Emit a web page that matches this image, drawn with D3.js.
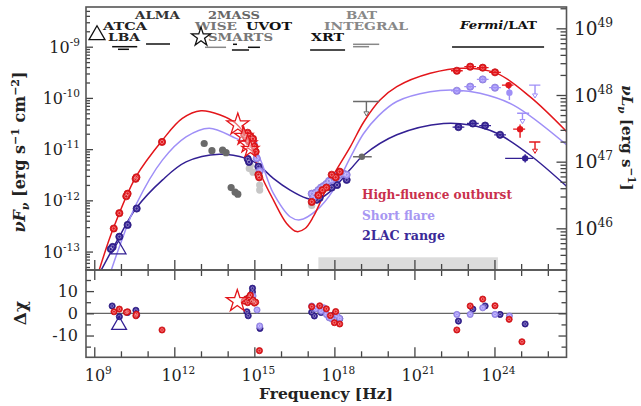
<!DOCTYPE html>
<meta charset="utf-8">
<script src="https://d3js.org/d3.v7.min.js"></script>
<style>
  body { margin: 0; background: #fff; }
  text { font-family: "DejaVu Serif", serif; }
</style>
<div id="my_dataviz"></div>
<script>

// ---- data, all as log10 values ----
// model curves [log nu, log nuFnu]
var hfCurve  = [[9.15,-13.42],[9.69,-12.58],[10.56,-11.54],[11.56,-10.82],[12.3,-10.4],[13.0,-10.25],[13.7,-10.33],[14.31,-10.5],[14.8,-10.85],[15.22,-11.47],[15.71,-11.99],[16.21,-12.45],[16.59,-12.61],[16.9,-12.55],[17.21,-12.32],[17.84,-11.62],[18.6,-10.95],[19.1,-10.47],[19.71,-10.04],[20.34,-9.78],[21.59,-9.52],[22.84,-9.42],[24.09,-9.52],[25.34,-9.98],[26.71,-10.66]];
var sfCurve  = [[9.6,-13.42],[9.94,-12.91],[10.56,-12.09],[11.56,-11.21],[12.44,-10.76],[13.31,-10.59],[14.31,-10.79],[14.96,-10.95],[15.71,-11.86],[16.34,-12.32],[16.71,-12.38],[17.34,-12.19],[17.96,-11.8],[18.59,-11.17],[19.09,-10.7],[19.65,-10.35],[20.34,-10.07],[21.59,-9.88],[22.59,-9.85],[23.46,-9.91],[24.71,-10.14],[26.71,-10.92]];
var lacCurve = [[9.2,-13.42],[9.94,-12.71],[10.56,-12.16],[11.56,-11.6],[12.44,-11.25],[13.69,-11.1],[14.69,-11.18],[15.09,-11.28],[15.71,-11.57],[16.34,-11.8],[16.96,-11.96],[17.34,-11.99],[17.84,-11.83],[18.59,-11.4],[19.09,-11.12],[20.34,-10.72],[22.09,-10.5],[23.09,-10.53],[24.09,-10.69],[25.34,-11.12],[26.71,-11.73]];

// measured SED points [log nu, log nuFnu]
var hfPts  = [[9.73,-12.55],[9.94,-12.25],[10.2,-11.92],[10.25,-11.87],[10.55,-11.58],[10.58,-11.55],[11.54,-10.86],
              [14.62,-10.72],[14.7,-10.78],[14.75,-10.68],[14.8,-10.85],[14.85,-10.75],[14.9,-10.9],[14.95,-10.8],[15.0,-10.95],[15.05,-11.05],[15.15,-11.5],[15.18,-11.55],
              [17.15,-12.03],[17.4,-11.9],[17.55,-11.8],[17.7,-11.75],[17.9,-11.5],[18.05,-11.55],[18.2,-11.44],
              [22.59,-9.47],[23.09,-9.39],[23.56,-9.41],[24.02,-9.50]];
var sfPts  = [[14.97,-10.89],[15.09,-11.18],[15.2,-11.43],
              [17.15,-11.87],[17.2,-11.95],[17.3,-11.85],[17.4,-11.8],[17.5,-11.75],[17.6,-11.72],[17.7,-11.68],[17.8,-11.62],[17.9,-11.6],[18.0,-11.55],[18.1,-11.52],[18.2,-11.5],[18.35,-11.48],[18.46,-11.5],
              [22.59,-9.86],[23.09,-9.78],[23.56,-9.64],[24.02,-9.8]];
var lacPts = [[9.62,-12.95],[9.69,-12.91],[9.94,-12.71],[10.25,-12.48],[10.59,-12.16],
              [14.75,-11.19],[14.8,-11.25],[15.15,-11.34],
              [17.34,-11.99],[17.45,-11.95],[17.9,-11.75],[18.1,-11.7],[18.46,-11.6],
              [22.65,-10.57],[23.19,-10.5],[23.65,-10.54],[24.21,-10.72]];
var darkGrayPts  = [[13.12,-10.89],[13.41,-11.03],[13.81,-11.02],[13.94,-11.07],[14.13,-11.75],[14.28,-11.84],[14.38,-11.88]];
var lightGrayPts = [[14.81,-11.38],[14.85,-11.32],[14.95,-11.45],[15.2,-11.55],[15.2,-11.7],[15.2,-11.8],[17.15,-12.1]];
var hfStars = [[14.38,-10.52,1],[14.6,-10.75,0.7],[14.75,-10.9,0.7],[14.85,-11.0,0.6]];
var lacTriangle = [9.91,-12.96];

// points with error bars: [log nu, log F, nu lo, nu hi, F lo, F hi, upper limit?]
var hfErr  = [[24.53,-9.75,24.28,24.71,-9.82,-9.69,0],[24.96,-10.61,24.7,25.15,-10.78,-10.52,0],[25.52,-10.86,25.3,25.72,-11.08,-10.86,1]];
var sfErr  = [[24.56,-9.9,24.56,24.56,-10.04,-9.8,0],[25.05,-10.3,24.85,25.3,-10.5,-10.3,1],[25.52,-9.75,25.3,25.72,-10.0,-9.75,1]];
var lacErr = [[25.15,-11.18,24.4,25.45,-11.26,-11.1,0]];
var grayErr = [[19.03,-11.15,18.7,19.4,-11.2,-11.1,0],[19.2,-10.07,18.7,19.68,-10.35,-10.07,1]];

// residuals [log nu, delta chi]
var hfRes  = [[9.74,0.7],[9.94,1.9],[10.2,0.45],[10.25,0.7],[10.56,-1.1],[10.58,-0.4],[11.54,-7.5],
              [14.62,5.5],[14.7,6.5],[14.75,4.8],[14.8,7.2],[14.85,8.2],[14.9,5.5],[14.95,6],[15.0,4.6],[15.05,5.0],[15.19,-16.8],
              [17.15,3.0],[17.45,3.4],[17.7,2.0],[17.85,-1],[18.0,-4.2],[18.2,-4.8],[18.05,0.8],
              [22.59,-7.5],[23.09,3.3],[23.56,6.4],[24.02,3.4],[24.55,-2.7],[25.03,-12.8]];
var sfRes  = [[14.95,7.8],[15.1,1.5],[15.2,-5.7],
              [17.15,3.3],[17.3,2.0],[17.5,1.0],[17.6,2.5],[17.7,-0.5],[17.8,-2.0],[17.9,-2.5],[18.1,-1.0],[18.2,-2.3],
              [22.59,-0.5],[23.09,-0.5],[23.56,2.5],[24.02,-0.5],[24.56,-1.2]];
var lacRes = [[9.67,3.3],[9.94,-1.5],[10.25,0.4],[10.56,1.35],[10.59,-0.8],
              [14.72,0.7],[14.77,-1.1],[14.93,11.3],[14.93,9.6],[15.21,-6.8],
              [17.15,0.5],[17.25,-1.2],[17.5,0.4],[18.0,-0.5],[18.2,-2.5],
              [22.65,-3.5],[23.19,1.9],[23.65,3.3],[24.21,-0.5],[25.15,-4.8]];
var hfStarRes = [14.36,5.5];
var lacTriRes = [9.93,-5.3];

// instrument coverage [log nu lo, log nu hi], and the shaded band
var instBlack = [[9.67,10.61],[9.89,10.3],[10.94,11.84],[14.16,14.8],[14.2,14.35],[14.76,15.21],[17.09,18.4],[22.41,25.86]];
var instBlackY = [46.7,49.3,44,50,44.3,47.3,50,47];
var instGray = [[13.15,13.94],[18.7,19.68],[18.7,19.3]];
var instGrayY = [47.3,44.3,46.7];
var band = [17.4, 24.13];

// instrument names: text, left x, baseline y, colour, width
var instNames = [["ALMA",135,18.5,"#333",45],["ATCA",103,29.5,"#222",44],["LBA",108,40.5,"#222",32],
                 ["2MASS",208,18.5,"#666",52],["WISE",195,29.5,"#777",42],["UVOT",246,29.5,"#111",46],["SMARTS",208,40.5,"#777",65],
                 ["BAT",346,18.5,"#888",31],["INTEGRAL",324,29.5,"#888",84],["XRT",311,40.5,"#111",33]];

var legendNames = ["High-fluence outburst", "Short flare", "2LAC range"];
var legendColors = ["#c9304c", "#a797f2", "#3b2a98"];
var legendWidths = [150, 73, 83];

// ---- layout ----
var L = 86, R = 566.5, T = 7, M = 270, B = 357.3;
var red = "#e3161b", lilac = "#9f8ff7", indigo = "#332093";
function P(e) { return Math.pow(10, e); }

var svg = d3.select("#my_dataviz").append("svg").attr("width", 641).attr("height", 406);

var x  = d3.scaleLog().domain([P(8.69), P(26.7)]).range([L, R]);
var y  = d3.scaleLog().domain([P(-13.36), P(-8.225)]).range([M, T]);
var yL = d3.scaleLog().domain([P(45.375), P(49.32)]).range([M, T]);
var yD = d3.scaleLinear().domain([-19.8, 19.5]).range([B, M]);

var gTop = svg.append("g");
svg.append("clipPath").attr("id", "c1").append("rect")
  .attr("x", L).attr("y", T).attr("width", R - L).attr("height", M - T);
var plot = gTop.append("g").attr("clip-path", "url(#c1)");

// shaded band
plot.append("rect")
  .attr("x", x(P(band[0]))).attr("width", x(P(band[1])) - x(P(band[0])))
  .attr("y", 257.3).attr("height", 12)
  .attr("fill", "#dcdcdc");

// model curves
var line = d3.line()
  .x(function(d) { return x(P(d[0])); })
  .y(function(d) { return y(P(d[1])); })
  .curve(d3.curveCatmullRom.alpha(0.5));
[[lacCurve, indigo], [sfCurve, lilac], [hfCurve, red]].forEach(function(c) {
  plot.append("path").attr("d", line(c[0])).attr("fill", "none")
    .attr("stroke", c[1]).attr("stroke-width", 1.5);
});

// gray archival points
plot.selectAll(".lg").data(lightGrayPts).enter().append("circle")
  .attr("cx", function(d) { return x(P(d[0])); }).attr("cy", function(d) { return y(P(d[1])); })
  .attr("r", 3.6).attr("fill", "#c6c6c6");
plot.selectAll(".dg").data(darkGrayPts).enter().append("circle")
  .attr("cx", function(d) { return x(P(d[0])); }).attr("cy", function(d) { return y(P(d[1])); })
  .attr("r", 3.6).attr("fill", "#6a6a6a");

// error bars and upper limits
function errBars(g, data, col, sc) {
  data.forEach(function(d) {
    var cx = x(P(d[0])), cy = sc(P(d[1]));
    g.append("line").attr("x1", x(P(d[2]))).attr("x2", x(P(d[3]))).attr("y1", cy).attr("y2", cy)
      .attr("stroke", col).attr("stroke-width", 1.4);
    g.append("line").attr("x1", cx).attr("x2", cx).attr("y1", sc(P(d[4]))).attr("y2", sc(P(d[5])))
      .attr("stroke", col).attr("stroke-width", 1.4);
    if (d[6]) {
      var ya = sc(P(d[4]));
      g.append("path").attr("d", "M" + (cx - 2.5) + "," + (ya - 4) + "L" + (cx + 2.5) + "," + (ya - 4) + "L" + cx + "," + ya + "Z")
        .attr("fill", "#fff").attr("stroke", col).attr("stroke-width", 1);
    } else {
      g.append("circle").attr("cx", cx).attr("cy", cy).attr("r", 3.2).attr("fill", col);
    }
  });
}
errBars(plot, grayErr, "#6a6a6a", y);

// data markers: filled circle with a light ring inside
function dots(g, data, col, sc, r) {
  var s = g.append("g");
  s.selectAll("circle.o").data(data).enter().append("circle")
    .attr("cx", function(d) { return x(P(d[0])); }).attr("cy", function(d) { return sc(d[1]); })
    .attr("r", r).attr("fill", col).attr("stroke", d3.color(col).darker(0.4)).attr("stroke-width", 0.8);
  s.selectAll("circle.i").data(data).enter().append("circle")
    .attr("cx", function(d) { return x(P(d[0])); }).attr("cy", function(d) { return sc(d[1]); })
    .attr("r", r * 0.45).attr("fill", "none").attr("stroke", "#fff").attr("stroke-opacity", 0.55).attr("stroke-width", 0.7);
}
var yv = function(v) { return y(P(v)); };
dots(plot, lacPts, indigo, yv, 3.6);
dots(plot, sfPts, lilac, yv, 3.6);
dots(plot, hfPts, red, yv, 3.6);
errBars(plot, lacErr, indigo, y);
errBars(plot, sfErr, lilac, y);
errBars(plot, hfErr, red, y);
// small bars on gamma points
[[hfPts.slice(-4), red], [sfPts.slice(-4), lilac], [lacPts.slice(-4), indigo]].forEach(function(c) {
  c[0].forEach(function(d) {
    plot.append("line").attr("x1", x(P(d[0] - 0.22))).attr("x2", x(P(d[0] + 0.22)))
      .attr("y1", y(P(d[1]))).attr("y2", y(P(d[1]))).attr("stroke", c[1]).attr("stroke-width", 1.3);
  });
});

// stars and triangle
var star = d3.symbol().type(d3.symbolStar);
hfStars.forEach(function(d) {
  plot.append("path").attr("d", star.size(150 * d[2])())
    .attr("transform", "translate(" + x(P(d[0])) + "," + y(P(d[1])) + ")")
    .attr("fill", "#fff").attr("fill-opacity", 0.4).attr("stroke", red).attr("stroke-width", 1.3);
});
var tri = d3.symbol().type(d3.symbolTriangle).size(95);
plot.append("path").attr("d", tri())
  .attr("transform", "translate(" + x(P(lacTriangle[0])) + "," + y(P(lacTriangle[1])) + ")")
  .attr("fill", "none").attr("stroke", indigo).attr("stroke-width", 1.3);

// instrument bars at the top
instBlack.forEach(function(d, i) {
  gTop.append("line").attr("x1", x(P(d[0]))).attr("x2", x(P(d[1])))
    .attr("y1", instBlackY[i]).attr("y2", instBlackY[i]).attr("stroke", "#111").attr("stroke-width", 1.5);
});
instGray.forEach(function(d, i) {
  gTop.append("line").attr("x1", x(P(d[0]))).attr("x2", x(P(d[1])))
    .attr("y1", instGrayY[i]).attr("y2", instGrayY[i]).attr("stroke", "#888").attr("stroke-width", 1.5);
});
instNames.forEach(function(d) {
  gTop.append("text").attr("x", d[1]).attr("y", d[2]).attr("fill", d[3])
    .attr("textLength", d[4]).attr("lengthAdjust", "spacingAndGlyphs")
    .style("font-size", "10.5px").style("font-weight", "bold").text(d[0]);
});
var fl = gTop.append("text").attr("x", 460).attr("y", 28.5).attr("fill", "#111")
  .attr("textLength", 77).attr("lengthAdjust", "spacingAndGlyphs")
  .style("font-size", "10.5px").style("font-weight", "bold");
fl.append("tspan").style("font-style", "italic").text("Fermi");
fl.append("tspan").text("/LAT");
gTop.append("path").attr("d", d3.symbol().type(d3.symbolTriangle).size(110)())
  .attr("transform", "translate(97,35)").attr("fill", "none").attr("stroke", "#111").attr("stroke-width", 1.3);
gTop.append("path").attr("d", star.size(110)())
  .attr("transform", "translate(201,37)").attr("fill", "none").attr("stroke", "#111").attr("stroke-width", 1.3);

// legend
legendNames.forEach(function(n, i) {
  gTop.append("text").attr("x", 362).attr("y", 199 + i * 20.5).attr("fill", legendColors[i])
    .attr("textLength", legendWidths[i]).attr("lengthAdjust", "spacingAndGlyphs")
    .style("font-size", "12px").style("font-weight", "bold").text(n);
});

// ---- residual panel ----
var bot = svg.append("g");
bot.append("line").attr("x1", L).attr("x2", R).attr("y1", yD(0)).attr("y2", yD(0))
  .attr("stroke", "#666").attr("stroke-width", 1.3);
var yr = function(v) { return yD(v); };
dots(bot, lacRes, indigo, yr, 3.1);
dots(bot, sfRes, lilac, yr, 3.1);
dots(bot, hfRes, red, yr, 3.1);
bot.append("path").attr("d", star.size(150)())
  .attr("transform", "translate(" + x(P(hfStarRes[0])) + "," + yD(hfStarRes[1]) + ")")
  .attr("fill", "#fff").attr("fill-opacity", 0.4).attr("stroke", red).attr("stroke-width", 1.3);
bot.append("path").attr("d", tri())
  .attr("transform", "translate(" + x(P(lacTriRes[0])) + "," + yD(lacTriRes[1]) + ")")
  .attr("fill", "none").attr("stroke", indigo).attr("stroke-width", 1.3);

// ---- axes ----
function clean(g) { g.select(".domain").remove(); g.selectAll("line").attr("stroke", "#444").attr("stroke-width", 1.3); }
var xMaj = [9, 12, 15, 18, 21, 24].map(P);
var xMin = d3.range(9, 27).filter(function(d) { return d % 3; }).map(P);
[[M, d3.axisTop, 10, 6], [M, d3.axisBottom, 10, 6], [B, d3.axisTop, 10, 6]].forEach(function(a) {
  svg.append("g").attr("transform", "translate(0," + a[0] + ")")
    .call(a[1](x).tickValues(xMaj).tickSize(a[2]).tickFormat("")).call(clean);
  svg.append("g").attr("transform", "translate(0," + a[0] + ")")
    .call(a[1](x).tickValues(xMin).tickSize(a[3]).tickFormat("")).call(clean);
});
function minorLog(lo, hi) {
  var out = [];
  for (var e = lo; e <= hi; e++) for (var k = 2; k <= 9; k++) out.push(k * P(e));
  return out;
}
svg.append("g").attr("transform", "translate(" + L + ",0)")
  .call(d3.axisRight(y).tickValues([-13, -12, -11, -10, -9].map(P)).tickSize(7).tickFormat("")).call(clean);
svg.append("g").attr("transform", "translate(" + L + ",0)")
  .call(d3.axisRight(y).tickValues(minorLog(-14, -9).filter(function(v) { return v > y.domain()[0] && v < y.domain()[1]; })).tickSize(4).tickFormat("")).call(clean);
svg.append("g").attr("transform", "translate(" + R + ",0)")
  .call(d3.axisLeft(yL).tickValues([46, 47, 48, 49].map(P)).tickSize(10).tickFormat("")).call(clean);
svg.append("g").attr("transform", "translate(" + R + ",0)")
  .call(d3.axisLeft(yL).tickValues(minorLog(45, 49).filter(function(v) { return v > yL.domain()[0] && v < yL.domain()[1]; })).tickSize(6).tickFormat("")).call(clean);
svg.append("g").attr("transform", "translate(" + L + ",0)")
  .call(d3.axisRight(yD).tickValues([-10, 0, 10]).tickSize(8).tickFormat("")).call(clean);
svg.append("g").attr("transform", "translate(" + L + ",0)")
  .call(d3.axisRight(yD).tickValues([-15, -5, 5, 15]).tickSize(5).tickFormat("")).call(clean);
svg.append("g").attr("transform", "translate(" + R + ",0)")
  .call(d3.axisLeft(yD).tickValues([-10, 0, 10]).tickSize(8).tickFormat("")).call(clean);
svg.append("g").attr("transform", "translate(" + R + ",0)")
  .call(d3.axisLeft(yD).tickValues([-15, -5, 5, 15]).tickSize(5).tickFormat("")).call(clean);

// frames
svg.append("rect").attr("x", L).attr("y", T).attr("width", R - L).attr("height", M - T)
  .attr("fill", "none").attr("stroke", "#555").attr("stroke-width", 1.6);
svg.append("rect").attr("x", L).attr("y", M).attr("width", R - L).attr("height", B - M)
  .attr("fill", "none").attr("stroke", "#555").attr("stroke-width", 1.6);

// tick labels
function pow10(g, px, py, anchor, e, sz) {
  var t = g.append("text").attr("x", px).attr("y", py).attr("text-anchor", anchor)
    .attr("fill", "#222").style("font-size", sz + "px");
  t.append("tspan").text("10");
  t.append("tspan").attr("dy", -sz * 0.42).style("font-size", (sz * 0.66) + "px").text(e);
  return t;
}
[-13, -12, -11, -10, -9].forEach(function(e) { pow10(svg, 80, y(P(e)) + 6, "end", e, 16); });
[46, 47, 48, 49].forEach(function(e) { pow10(svg, 574, yL(P(e)) + 6.5, "start", e, 18.5); });
[9, 12, 15, 18, 21, 24].forEach(function(e) { pow10(svg, x(P(e)) + 4, 381, "middle", e, 16); });
[-10, 0, 10].forEach(function(v) {
  svg.append("text").attr("x", 78).attr("y", yD(v) + 5.5).attr("text-anchor", "end")
    .attr("fill", "#222").style("font-size", "16px").text(v);
});

// axis titles
var yt = svg.append("text").attr("transform", "translate(25,152)rotate(-90)").attr("text-anchor", "middle")
  .attr("fill", "#222").style("font-size", "16px").style("font-weight", "bold");
yt.append("tspan").style("font-style", "italic").text("\u03bdF");
yt.append("tspan").attr("dy", 4).style("font-size", "11px").style("font-style", "italic").text("\u03bd");
yt.append("tspan").attr("dy", -4).text(" [erg s");
yt.append("tspan").attr("dy", -6).style("font-size", "11px").text("\u22121");
yt.append("tspan").attr("dy", 6).text(" cm");
yt.append("tspan").attr("dy", -6).style("font-size", "11px").text("\u22122");
yt.append("tspan").attr("dy", 6).text("]");

var rt = svg.append("text").attr("transform", "translate(622,138)rotate(90)").attr("text-anchor", "middle")
  .attr("fill", "#222").style("font-size", "15px").style("font-weight", "bold");
rt.append("tspan").style("font-style", "italic").text("\u03bdL");
rt.append("tspan").attr("dy", 4).style("font-size", "10.5px").style("font-style", "italic").text("\u03bd");
rt.append("tspan").attr("dy", -4).text(" [erg s");
rt.append("tspan").attr("dy", -6).style("font-size", "10.5px").text("\u22121");
rt.append("tspan").attr("dy", 6).text("]");

svg.append("text").attr("transform", "translate(26,313)rotate(-90)").attr("text-anchor", "middle")
  .attr("fill", "#222").style("font-size", "17px").style("font-weight", "bold").text("\u0394\u03c7");

svg.append("text").attr("x", 326).attr("y", 399).attr("text-anchor", "middle")
  .attr("fill", "#222").style("font-size", "15.5px").style("font-weight", "bold").text("Frequency [Hz]");

</script>
